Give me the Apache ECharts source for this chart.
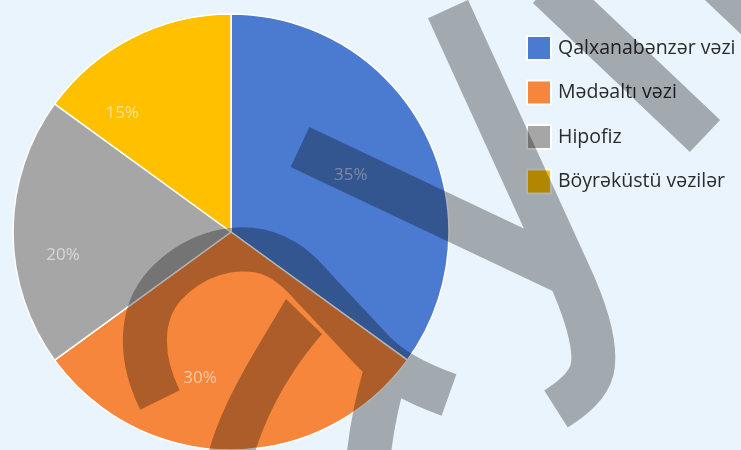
<!DOCTYPE html>
<html>
<head>
<meta charset="utf-8">
<script src="https://cdn.jsdelivr.net/npm/echarts@6/dist/echarts.min.js"></script>
<style>
  html, body { margin: 0; padding: 0; background: #e9f4fc; }
  #chart { width: 741px; height: 450px; }
</style>
</head>
<body>
<div id="chart"></div>
<script>
// Share of glands (percent)
const glandNames = ['Qalxanabənzər vəzi', 'Mədəaltı vəzi', 'Hipofiz', 'Böyrəküstü vəzilər'];
const glandShares = [35, 30, 20, 15];
const sliceColors = ['#4a7bd0', '#f6863b', '#a6a6a6', '#ffc000'];

// Small nudges that move each percentage label off the slice midline
const labelShift = [[20, -6], [-31, 34], [-56, 23], [-58, -19]];

const chart = echarts.init(document.getElementById('chart'), null, { renderer: 'canvas' });

// Hand-drawn strokes laid over the chart, stroked in one pass so crossings stay even
const strokePath =
  'M448,9 L568,272 C582,302 598,345 592,370 C588,385 575,397 556,409 ' +
  'M300,147 L562,271 ' +
  'M548,-13 L705,136 ' +
  'M700,-35 L800,60 ' +
  'M160,400 C140,360 138,315 165,285 C192,256 228,245 260,251 C284,256 300,272 314,288 L372,350 Q396,376 449,395 ' +
  'M386,370 C380,392 372,420 368,462';
const diagonalPath =
  'M286,299 L322,334 C300,360 270,400 252,462 L206,462 C220,405 250,360 286,299 Z';

chart.setOption({
  backgroundColor: '#e9f4fc',
  animation: false,
  color: sliceColors,
  legend: {
    orient: 'vertical',
    left: 521,
    top: 30,
    itemWidth: 24,
    itemHeight: 24,
    itemGap: 18.5,
    icon: 'rect',
    itemStyle: { borderColor: '#ffffff', borderWidth: 2 },
    textStyle: {
      fontFamily: 'Open Sans',
      fontSize: 19.5,
      lineHeight: 24,
      color: '#2b2b2b',
      padding: [0, 0, 0, 2]
    },
    data: glandNames
  },
  series: [{
    type: 'pie',
    center: [231, 232],
    radius: 218,
    startAngle: 90,
    clockwise: true,
    itemStyle: { borderColor: '#ffffff', borderWidth: 1.5 },
    label: {
      show: true,
      position: 'inside',
      formatter: '{c}%',
      fontFamily: 'Open Sans',
      fontSize: 17,
      color: 'rgba(255,255,255,0.55)'
    },
    labelLayout: function (p) {
      const s = labelShift[p.dataIndex];
      return { dx: s[0], dy: s[1] };
    },
    emphasis: { disabled: true },
    data: glandNames.map((n, i) => ({ name: n, value: glandShares[i] }))
  }, {
    // overlay strokes
    type: 'custom',
    coordinateSystem: 'none',
    silent: true,
    z: 20,
    zlevel: 1,
    legendHoverLink: false,
    data: [0],
    renderItem: function () {
      return {
        type: 'group',
        children: [
          {
            type: 'path',
            shape: { pathData: strokePath },
            style: {
              fill: 'none',
              stroke: 'rgba(0,0,0,0.3)',
              lineWidth: 44,
              lineCap: 'butt',
              lineJoin: 'round'
            }
          },
          {
            type: 'path',
            shape: { pathData: diagonalPath },
            style: { fill: 'rgba(0,0,0,0.3)', stroke: 'none' }
          }
        ]
      };
    }
  }]
});
</script>
</body>
</html>
